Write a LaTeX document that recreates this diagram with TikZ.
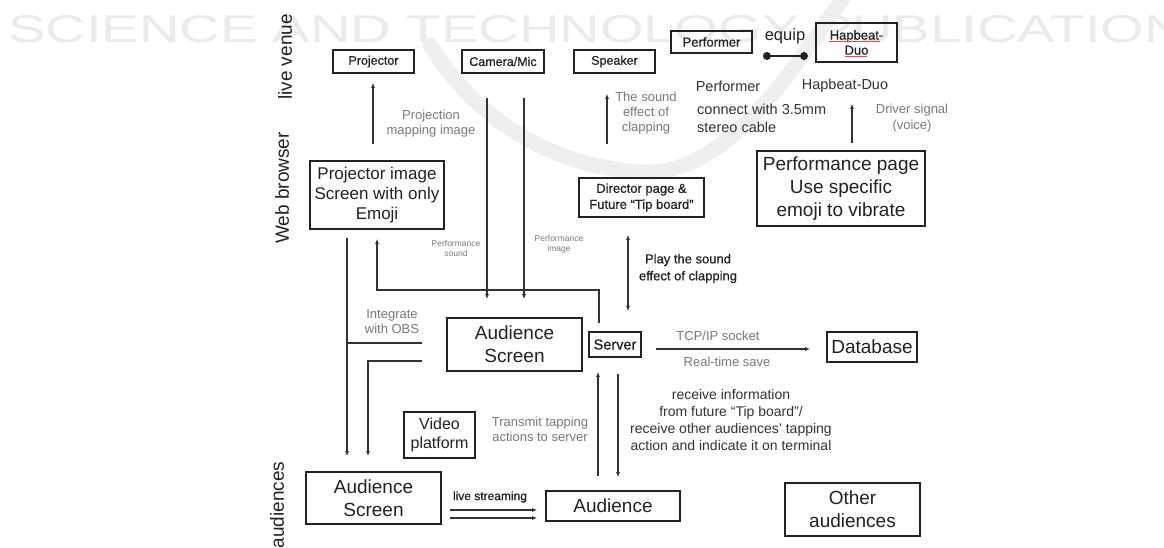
\documentclass[tikz,border=0pt]{standalone}
\usepackage{graphicx}
\usepackage{fontspec}
\setmainfont{Liberation Sans}
\newfontfamily\bfk{Liberation Sans}[FakeBold=0.6]
\usetikzlibrary{arrows.meta,calc}
\definecolor{ink}{HTML}{222222}
\definecolor{lnc}{HTML}{333333}
\definecolor{grc}{HTML}{7A7A7A}
\definecolor{wmc}{HTML}{EBEBEB}
\definecolor{swc}{HTML}{EFEFEF}
\begin{document}
\begin{tikzpicture}[x=1pt,y=-1pt,
  box/.style={draw=ink, line width=1.7pt, inner sep=0pt, align=center, text=ink},
  sm/.style={box, font=\bfk\fontsize{12.5}{14}\selectfont},
  lg/.style={box, font=\fontsize{19}{23}\selectfont},
  arr/.style={draw=lnc, line width=1.1pt, -{Latex[length=5pt,width=4pt]}},
  dbl/.style={draw=lnc, line width=1.1pt, {Latex[length=5pt,width=4pt]}-{Latex[length=5pt,width=4pt]}},
  wire/.style={draw=lnc, line width=1.1pt},
  glab/.style={text=grc, align=center, inner sep=0pt, font=\fontsize{13}{15}\selectfont},
  dlab/.style={text=lnc, align=center, inner sep=0pt, font=\fontsize{14.5}{18}\selectfont},
  side/.style={rotate=90, text=ink, inner sep=0pt, font=\fontsize{19}{23}\selectfont}]
\useasboundingbox (0,0) rectangle (1164,547);
\fill[white] (0,0) rectangle (1164,547);
% watermark
\node[anchor=south west, inner sep=0pt, text=wmc] (wmark) at (8,43) {\resizebox{1214pt}{27pt}{SCIENCE AND TECHNOLOGY PUBLICATIONS}};
\draw[line width=15pt, swc, line cap=round] (430,45) .. controls (470,110) and (540,165) .. (640,172) .. controls (720,177) and (780,90) .. (845,-5);

% side labels
\node[side] (lv) at (285,57) {live venue};
\node[side] (wb) at (282,188) {Web browser};
\node[side] (au) at (277,505) {audiences};

% boxes
\node[sm, minimum width=81, minimum height=23] (proj) at (373.5,61.5) {Projector};
\node[sm, minimum width=82, minimum height=23] (cam) at (503,61.5) {Camera/Mic};
\node[sm, minimum width=81, minimum height=23] (spk) at (614.5,61.5) {Speaker};
\node[sm, font=\bfk\fontsize{13}{15}\selectfont, minimum width=81, minimum height=22] (perf) at (711.5,42) {Performer};
\node[sm, font=\bfk\fontsize{13}{15}\selectfont, minimum width=81, minimum height=39] (hap) at (856.5,42.5) {Hapbeat-\\Duo};
\node[box, font=\fontsize{17}{20}\selectfont, minimum width=134, minimum height=68] (projimg) at (377,195) {Projector image\\Screen with only\\Emoji};
\node[sm, font=\bfk\fontsize{13}{16}\selectfont, minimum width=125, minimum height=39] (dir) at (641.5,197.5) {Director page \&\\Future “Tip board”};
\node[lg, minimum width=168, minimum height=75] (perfpage) at (841,188.5) {Performance page\\Use specific\\emoji to vibrate};
\node[lg, minimum width=135, minimum height=53] (audscr) at (514.5,344.5) {Audience\\Screen};
\node[sm, font=\bfk\fontsize{14.5}{16}\selectfont, minimum width=52, minimum height=25] (server) at (615,344.5) {Server};
\node[lg, minimum width=90, minimum height=30] (db) at (872,347) {Database};
\node[box, font=\fontsize{16}{19}\selectfont, minimum width=71, minimum height=46] (video) at (439.5,435) {Video\\platform};
\node[lg, minimum width=135, minimum height=52] (audscr2) at (373.5,498) {Audience\\Screen};
\node[lg, minimum width=134, minimum height=30] (aud) at (613,506) {Audience};
\node[lg, minimum width=135, minimum height=53] (other) at (852.5,509.5) {Other\\audiences};

% spell-check marks
\draw[red!75, line width=0.6pt] (829,41) -- (880,41);
\draw[red!75, line width=0.6pt] (845,56) -- (867,56);

% equip connector
\coordinate (eqA) at (767,56);
\coordinate (eqB) at (804,56);
\draw[ink, line width=1.6pt] (eqA) -- (eqB);
\fill[ink] (eqA) circle[radius=4pt] (eqB) circle[radius=4pt];
\node[text=ink, inner sep=0pt, font=\fontsize{16.5}{18}\selectfont] (equip) at (785,36) {equip};

% text labels
\node[glab] (projl) at (431,124) {Projection\\mapping image};
\node[glab] (sndl) at (646,113) {The sound\\effect of\\clapping};
\node[dlab] (perfl) at (728,86) {Performer};
\node[dlab] (hapl) at (845,86) {Hapbeat-Duo};
\node[dlab, align=left, anchor=west] (conl) at (697,118) {connect with 3.5mm\\stereo cable};
\node[glab, font=\fontsize{13}{16}\selectfont] (drvl) at (912,118.5) {Driver signal\\(voice)};
\node[glab, font=\fontsize{8.5}{10}\selectfont] (psl) at (456,248) {Performance\\sound};
\node[glab, font=\fontsize{8.5}{10}\selectfont] (pil) at (559,244) {Performance\\image};
\node[text=ink, align=center, inner sep=0pt, font=\bfk\fontsize{13}{17}\selectfont] (playl) at (688,268.5) {Play the sound\\effect of clapping};
\node[glab] (obsl) at (392,322) {Integrate\\with OBS};
\node[glab] (tcpl) at (718,336) {TCP/IP socket};
\node[glab] (rtl) at (727,362) {Real-time save};
\node[text=lnc, align=center, inner sep=0pt, font=\fontsize{14}{17}\selectfont] (recl) at (731,419.5) {receive information\\from future “Tip board”/\\receive other audiences’ tapping\\action and indicate it on terminal};
\node[glab] (trl) at (540,429.5) {Transmit tapping\\actions to server};
\node[text=ink, inner sep=0pt, font=\bfk\fontsize{12}{14}\selectfont] (lsl) at (490,497) {live streaming};

% connectors
\draw[arr, shorten <=16pt, shorten >=9pt] ($(proj.south |- projimg.north)+(-0.5,0)$) -- ($(proj.south)+(-0.5,0)$);
\draw[arr, shorten <=24pt, shorten >=18pt] ($(cam.south)+(-16,0)$) -- ($(cam.south |- audscr.north)+(-16,0)$);
\draw[arr, shorten <=24pt, shorten >=18pt] ($(cam.south)+(21,0)$) -- ($(cam.south |- audscr.north)+(21,0)$);
\draw[arr, shorten <=33pt, shorten >=20pt] ($(spk.south |- dir.north)+(-7.5,0)$) -- ($(spk.south)+(-7.5,0)$);
\draw[arr, shorten <=7pt, shorten >=41pt] ($(perfpage.north)+(11,0)$) -- ($(hap.south)+(-4.5,0)$);

\coordinate (pdown) at ($(projimg.south)+(-30,0)$);
\draw[arr, shorten <=8pt, shorten >=15pt] (pdown) -- ($(projimg.south |- audscr2.north)+(-30,0)$);
\coordinate (obs1) at (422,343);
\coordinate (obs2) at (422,361);
\draw[wire] (obs1) -- (obs1 -| pdown);
\draw[arr, shorten >=15pt] (obs2) -| ($(audscr2.north)+(-5.5,0)$);

\coordinate (srvturn) at (599,290);
\draw[arr, shorten <=8pt, shorten >=9pt] ($(server.north)+(-16,0)$) -- (srvturn) -| (projimg.south);

\draw[dbl, shorten <=17pt, shorten >=20pt] ($(dir.south)+(-13.5,0)$) -- ($(dir.south |- server.north)+(-13.5,0)$);
\draw[arr, shorten <=14pt, shorten >=16pt] ($(server.east)+(0,4.5)$) -- ($(server.east -| db.west)+(0,4.5)$);
\draw[arr, shorten <=14pt, shorten >=14pt] ($(aud.north)+(-15,0)$) -- ($(aud.north |- server.south)+(-15,0)$);
\draw[arr, shorten <=16pt, shorten >=13pt] ($(server.south)+(3,0)$) -- ($(server.south |- aud.north)+(3,0)$);
\draw[arr, shorten <=8pt, shorten >=8pt] ($(audscr2.east)+(0,12)$) -- ($(audscr2.east -| aud.west)+(0,12)$);
\draw[arr, shorten <=8pt, shorten >=8pt] ($(audscr2.east)+(0,20)$) -- ($(audscr2.east -| aud.west)+(0,20)$);
\end{tikzpicture}
\end{document}
